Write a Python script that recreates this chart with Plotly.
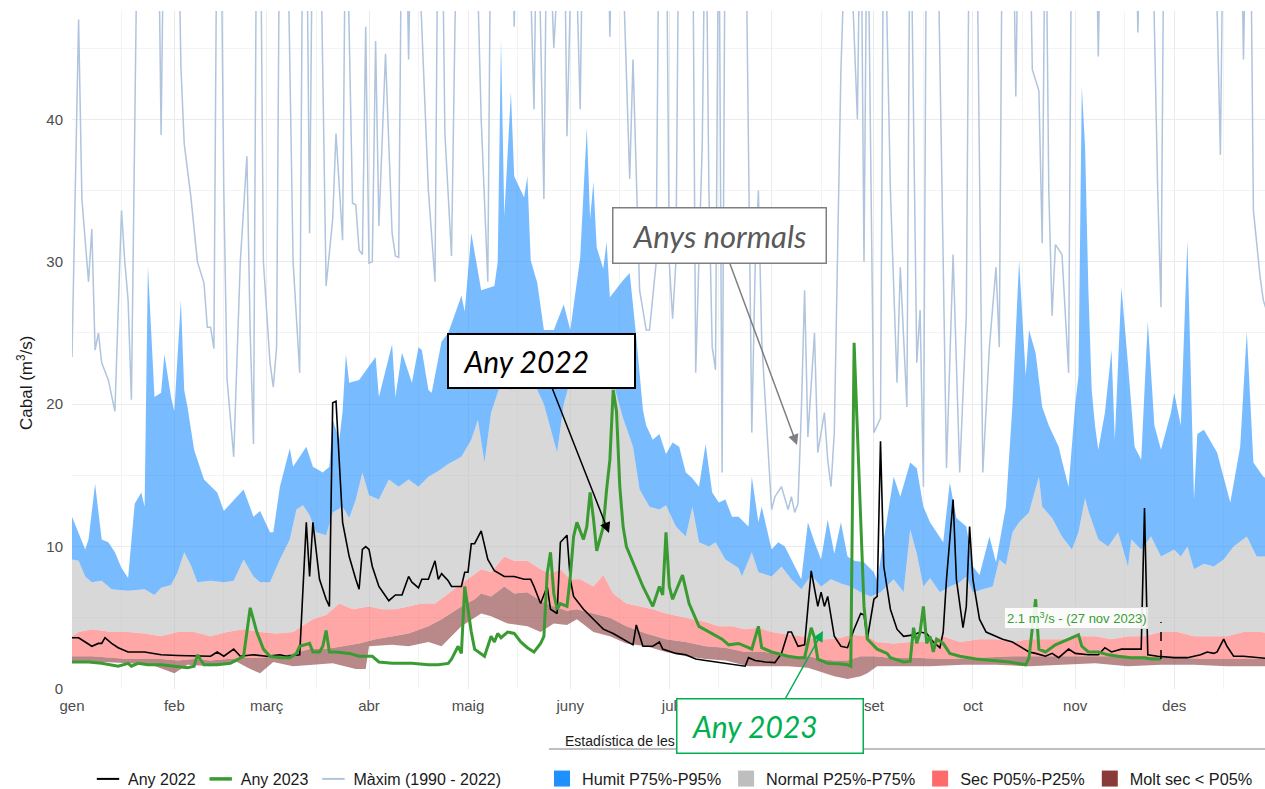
import pandas as pd
import plotly.graph_objects as go

BASE = pd.Timestamp("2022-01-01")

# ---------------- data (day of year, 0 = 1 Jan; flow in m3/s) ----------------
max_day = [0, 2, 3, 5, 6, 7, 8, 9, 11, 13, 15, 16, 17, 18, 20, 26, 27, 28, 32, 33, 34, 36, 38, 40, 41, 42, 43, 44, 45, 46,
           47, 49, 51, 53, 54, 55, 56, 57, 58, 60, 61, 62, 63, 65, 67, 69, 70, 71, 72, 73, 75, 77, 79, 80, 82, 83, 85, 86, 87, 88,
           89, 90, 91, 92, 93, 95, 97, 98, 99, 100, 101, 102, 103, 104, 108, 110, 111, 112, 113, 115, 116, 117, 122, 124, 126, 127, 133, 134, 135, 138,
           140, 141, 143, 144, 146, 149, 150, 152, 154, 155, 162, 163, 164, 166, 169, 170, 172, 174, 175, 177, 178, 180, 181, 182, 183, 184, 188, 189, 191, 192,
           193, 194, 195, 196, 197, 198, 204, 205, 206, 207, 208, 209, 211, 212, 213, 215, 217, 218, 219, 220, 221, 222, 223, 225, 226, 228, 229, 230, 231, 233,
           235, 238, 239, 240, 241, 243, 245, 246, 248, 250, 251, 253, 254, 256, 257, 258, 259, 262, 264, 265, 267, 269, 271, 272, 274, 276, 278, 280, 281, 282,
           285, 286, 287, 290, 291, 293, 294, 295, 296, 297, 298, 300, 302, 303, 310, 311, 312, 322, 323, 324, 327, 329, 330, 331, 346, 348, 349, 354, 355, 356,
           357, 358, 360, 361, 364]
max_val = [23.3, 47.0, 34.4, 28.6, 32.3, 23.8, 25.0, 22.9, 21.7, 19.5, 33.6, 30.0, 27.3, 20.3, 58, 58, 38.9, 58, 58, 43.7, 38.3, 34.6, 30.0, 28.5, 25.4, 25.4, 23.9, 58, 58, 35.0,
           21.7, 16.3, 30.0, 37.4, 25.0, 17.2, 58, 58, 30.0, 22.9, 21.2, 24.0, 58, 58, 30.0, 22.2, 58, 58, 32.0, 58, 58, 28.3, 33.0, 39.0, 31.5, 58, 34.1, 34.0, 30.8, 30.5,
           46.5, 29.9, 30.0, 45.5, 32.5, 44.6, 32.0, 30.4, 30.3, 58, 58, 44.2, 58, 58, 35.0, 28.6, 58, 58, 39.0, 30.4, 45.8, 58, 58, 40.0, 28.6, 58, 58, 46.5, 58, 58,
           40.7, 58, 34.4, 58, 45.0, 58, 38.8, 58, 40.7, 58, 58, 45.8, 58, 58, 35.8, 44.2, 28.0, 25.2, 25.2, 29.9, 58, 58, 29.9, 26.0, 30.0, 58, 58, 22.2, 38.4, 58,
           35.0, 24.0, 22.4, 58, 15.2, 58, 58, 40.0, 18.0, 29.4, 35.0, 24.5, 17.0, 12.6, 13.5, 14.2, 12.6, 13.5, 12.4, 13.0, 19.4, 28.0, 17.7, 25.0, 16.6, 19.4, 16.1, 14.2, 18.0, 43.4,
           58, 40.0, 58, 30.0, 58, 18.0, 19.0, 58, 35.0, 21.5, 29.6, 19.8, 58, 22.9, 26.6, 14.2, 58, 58, 30.0, 15.5, 30.5, 15.2, 26.2, 58, 58, 15.2, 24.0, 29.6, 24.0, 58,
           58, 41.6, 58, 58, 43.5, 42.0, 31.3, 58, 35.0, 26.2, 31.2, 30.5, 22.2, 58, 58, 44.4, 58, 58, 46.1, 58, 58, 35.0, 26.8, 58, 58, 37.5, 58, 58, 44.2, 58,
           58, 33.6, 29.0, 27.3, 25.0]

p95_day = [0, 2, 4, 5, 7, 9, 11, 13, 15, 17, 19, 21, 22, 23, 25, 27, 28, 30, 31, 33, 34, 35, 37, 40, 44, 46, 48, 52, 55, 57,
           60, 61, 63, 66, 67, 71, 73, 76, 78, 79, 81, 82, 83, 84, 87, 92, 93, 97, 98, 100, 102, 103, 105, 106, 108, 109, 112, 114, 118, 119,
           121, 124, 128, 129, 130, 131, 133, 134, 136, 137, 138, 139, 141, 143, 146, 149, 151, 154, 156, 157, 158, 159, 161, 162, 163, 167, 169, 171, 173, 174,
           176, 178, 180, 182, 184, 186, 188, 190, 192, 194, 196, 198, 200, 202, 205, 206, 208, 209, 212, 214, 216, 219, 221, 223, 225, 227, 229, 231, 233, 235,
           237, 240, 243, 244, 249, 251, 254, 256, 258, 260, 262, 264, 266, 268, 271, 273, 275, 278, 280, 283, 285, 287, 289, 290, 292, 294, 296, 299, 300, 302,
           304, 305, 306, 307, 308, 309, 310, 311, 313, 315, 316, 318, 320, 322, 324, 326, 328, 330, 333, 334, 336, 338, 340, 341, 343, 347, 351, 354, 356, 358,
           361, 364]
p95_val = [12.1, 11.0, 9.8, 10.5, 14.4, 10.5, 10.3, 9.6, 8.5, 7.8, 13.0, 13.8, 12.8, 29.7, 20.5, 20.8, 23.5, 20.5, 19.5, 27.3, 21.0, 19.8, 16.8, 14.7, 13.8, 12.5, 13.0, 14.0, 12.1, 12.5,
           11.0, 11.0, 14.2, 16.9, 15.6, 17.0, 15.6, 15.2, 15.6, 18.9, 17.5, 19.5, 23.5, 21.5, 21.7, 23.3, 20.5, 24.2, 20.5, 23.6, 22.2, 21.5, 24.0, 23.8, 21.0, 20.8, 24.4, 25.0, 27.6, 26.5,
           32.0, 28.0, 28.3, 30.0, 45.6, 33.2, 41.9, 36.0, 35.0, 34.5, 36.0, 30.1, 28.5, 25.2, 25.2, 27.0, 25.2, 30.3, 39.4, 33.0, 35.6, 31.0, 29.5, 31.4, 27.5, 28.7, 29.2, 24.7, 19.6, 18.5,
           17.5, 17.9, 16.5, 17.3, 17.0, 15.2, 14.8, 14.2, 17.2, 13.8, 13.1, 13.3, 12.1, 12.1, 11.4, 14.9, 11.7, 12.8, 9.8, 10.3, 10.0, 8.6, 7.7, 11.7, 10.3, 9.1, 11.9, 9.5, 11.7, 9.3,
           9.0, 8.9, 8.2, 7.6, 14.9, 13.5, 15.9, 15.5, 12.8, 11.7, 11.0, 10.3, 14.5, 12.0, 11.4, 8.6, 8.0, 10.7, 8.9, 12.8, 20.0, 30.1, 22.0, 25.2, 23.6, 19.8, 18.5, 17.0, 16.0, 14.2,
           20.0, 22.0, 42.3, 38.0, 28.0, 21.0, 18.5, 16.8, 19.4, 23.8, 17.5, 28.2, 22.8, 17.0, 16.1, 25.8, 18.5, 16.8, 19.4, 20.8, 18.5, 31.5, 13.3, 17.9, 18.2, 16.6, 13.1, 17.0, 25.1, 15.9,
           14.9, 14.5]

p75_day = [0, 2, 4, 6, 9, 12, 17, 22, 25, 27, 30, 32, 34, 36, 38, 42, 46, 49, 52, 55, 57, 60, 63, 66, 68, 70, 72, 74, 77, 79,
           82, 84, 86, 88, 90, 93, 96, 99, 102, 105, 108, 111, 114, 118, 121, 123, 125, 127, 130, 133, 136, 140, 143, 146, 147, 149, 152, 155, 158, 161,
           164, 167, 170, 172, 175, 178, 180, 183, 186, 188, 190, 193, 195, 198, 202, 203, 206, 208, 212, 215, 218, 221, 224, 227, 230, 233, 236, 239, 242, 245,
           249, 252, 254, 256, 258, 260, 263, 266, 269, 271, 273, 276, 279, 281, 283, 285, 287, 290, 293, 294, 297, 300, 303, 305, 307, 308, 311, 314, 317, 320,
           321, 324, 327, 330, 334, 336, 338, 340, 343, 346, 349, 352, 356, 359, 362, 364]
p75_val = [9.1, 9.0, 7.9, 7.5, 7.6, 7.0, 6.9, 7.0, 6.6, 7.1, 7.3, 8.2, 9.6, 8.7, 7.5, 7.6, 7.5, 7.6, 9.1, 7.9, 7.5, 7.5, 9.1, 10.5, 12.6, 12.9, 12.2, 11.0, 10.8, 12.4,
           12.8, 12.0, 13.3, 15.2, 13.6, 13.3, 14.7, 14.2, 14.7, 14.2, 14.9, 15.3, 15.8, 16.3, 17.5, 18.9, 15.9, 19.4, 21.5, 21.0, 22.0, 21.5, 20.0, 17.5, 16.6, 20.0, 22.5, 22.0, 23.0, 22.0,
           21.5, 19.0, 17.0, 14.0, 12.8, 12.6, 12.9, 11.4, 10.7, 12.8, 10.3, 10.0, 10.3, 9.1, 8.5, 7.9, 9.6, 8.2, 7.9, 8.6, 7.7, 7.0, 8.0, 7.2, 7.7, 7.4, 7.2, 6.8, 6.5, 6.8,
           7.7, 6.8, 11.2, 9.5, 7.2, 7.8, 6.8, 7.2, 7.5, 7.9, 6.8, 7.0, 7.2, 9.1, 8.7, 11.0, 11.7, 12.4, 14.9, 12.8, 12.0, 10.7, 9.8, 11.0, 13.4, 12.5, 10.5, 10.0, 11.0, 8.6,
           10.5, 9.8, 10.7, 9.3, 9.8, 9.3, 10.0, 8.4, 8.8, 8.6, 9.1, 10.0, 10.7, 9.3, 9.3, 9.5]

p25_day = [0, 2, 6, 12, 17, 22, 27, 32, 37, 42, 47, 52, 57, 62, 67, 73, 77, 81, 85, 90, 94, 98, 102, 106, 110, 114, 118, 122, 124, 127,
           131, 134, 138, 142, 145, 148, 151, 154, 158, 161, 164, 168, 172, 176, 180, 184, 188, 192, 196, 200, 204, 208, 212, 217, 221, 225, 229, 233, 236, 241,
           244, 249, 254, 259, 264, 269, 275, 280, 285, 290, 295, 300, 305, 310, 315, 320, 325, 330, 335, 340, 345, 350, 355, 360, 364]
p25_val = [3.7, 4.0, 4.2, 4.0, 4.0, 3.9, 3.7, 4.0, 4.0, 3.7, 4.0, 4.2, 4.0, 3.9, 4.0, 4.9, 5.2, 6.0, 5.6, 5.8, 5.6, 5.6, 5.8, 6.0, 6.0, 6.7, 7.4, 8.1, 8.4, 8.2,
           9.3, 9.0, 9.0, 8.4, 8.1, 8.4, 7.7, 7.7, 7.2, 8.0, 6.7, 6.0, 5.8, 5.6, 5.3, 5.1, 4.9, 4.7, 4.4, 4.4, 4.2, 4.3, 4.0, 3.8, 3.7, 3.5, 3.5, 3.6, 3.8, 3.7,
           3.3, 3.2, 3.3, 3.3, 3.7, 3.3, 3.5, 3.5, 3.3, 3.5, 3.5, 3.5, 3.7, 3.7, 3.5, 3.7, 3.7, 4.0, 4.0, 3.7, 3.7, 3.7, 4.0, 4.0, 3.9]

p05_day = [0, 6, 12, 17, 27, 32, 37, 42, 47, 52, 57, 62, 67, 72, 77, 82, 87, 92, 97, 102, 108, 112, 118, 122, 124, 127, 131, 134, 138, 142,
           146, 150, 153, 158, 163, 168, 174, 180, 186, 192, 198, 204, 210, 217, 223, 227, 231, 235, 239, 243, 248, 255, 265, 275, 285, 295, 305, 315, 325, 335,
           345, 355, 364]
p05_val = [2.3, 2.3, 2.2, 2.1, 2.1, 2.0, 2.1, 2.0, 2.1, 2.2, 2.2, 2.3, 2.5, 2.8, 2.8, 3.0, 3.2, 3.5, 3.7, 3.9, 4.4, 4.9, 5.8, 6.3, 6.7, 6.5, 7.2, 6.7, 6.8, 6.2,
           5.8, 5.5, 5.6, 5.3, 5.0, 4.4, 3.9, 3.5, 3.3, 3.0, 2.9, 2.6, 2.6, 2.3, 2.3, 2.1, 2.0, 2.0, 2.3, 2.3, 2.2, 2.2, 2.1, 2.2, 2.3, 2.3, 2.3, 2.3, 2.3, 2.2,
           2.1, 2.1, 2.1]

min_day = [0, 10, 17, 24, 31, 35, 42, 50, 54, 57, 61, 67, 73, 79, 86, 89, 90, 97, 102, 108, 112, 118, 122, 124, 127, 129, 132, 138, 142, 146,
           150, 153, 158, 163, 168, 174, 180, 186, 192, 198, 205, 210, 217, 223, 227, 231, 235, 239, 241, 244, 250, 260, 270, 280, 290, 300, 310, 320, 330, 340,
           350, 364]
min_val = [1.9, 1.9, 1.8, 1.7, 1.1, 1.7, 1.6, 1.9, 1.4, 1.1, 1.9, 1.6, 1.7, 1.8, 1.4, 1.4, 3.0, 3.1, 3.0, 3.3, 3.0, 4.4, 5.0, 5.3, 5.1, 4.9, 4.6, 4.4, 4.0, 4.6,
           4.5, 4.9, 4.0, 3.7, 3.2, 3.0, 2.6, 2.3, 2.1, 2.0, 1.6, 1.6, 1.6, 1.5, 1.2, 0.9, 0.7, 0.9, 1.1, 1.6, 1.6, 1.6, 1.7, 1.7, 1.6, 1.7, 1.8, 1.6, 1.7, 1.7,
           1.6, 1.6]

y2022_day = [0, 2, 4, 6, 8, 9, 10, 12, 14, 17, 22, 27, 32, 37, 42, 44, 46, 49, 51, 55, 59, 63, 65, 67, 69, 71, 72, 73, 75, 77,
             78, 79, 80, 82, 84, 86, 87, 88, 89, 90, 91, 93, 96, 98, 100, 102, 103, 105, 106, 108, 110, 111, 112, 114, 115, 118, 119, 120, 121, 122,
             124, 126, 128, 131, 134, 137, 139, 140, 142, 144, 145, 147, 148, 150, 151, 152, 155, 158, 161, 164, 167, 170, 171, 173, 176, 178, 179, 183, 186, 189,
             192, 195, 198, 201, 204, 205, 207, 210, 213, 215, 217, 218, 220, 222, 224, 226, 227, 228, 229, 231, 233, 235, 237, 239, 240, 241, 243, 244, 245, 246,
             248, 250, 252, 255, 257, 259, 261, 263, 264, 265, 267, 268, 270, 271, 272, 273, 275, 277, 279, 282, 285, 288, 290, 292, 295, 297, 299, 302, 304, 308,
             311, 313, 315, 318, 324, 325, 326, 329, 334, 338, 342, 344, 346, 347, 349, 350, 352, 355, 360, 364]
y2022_val = [3.6, 3.6, 3.3, 3.0, 3.2, 3.2, 3.6, 3.2, 2.9, 2.6, 2.6, 2.4, 2.35, 2.3, 2.3, 2.6, 2.3, 2.8, 2.3, 2.4, 2.3, 2.4, 2.3, 2.35, 2.4, 11.7, 7.9, 11.7, 7.7, 6.3,
             5.8, 20.1, 20.2, 11.7, 9.3, 7.7, 7.0, 9.8, 10.0, 9.8, 8.6, 7.2, 6.2, 6.6, 6.6, 7.9, 7.5, 7.1, 7.7, 7.7, 9.0, 7.7, 8.1, 7.6, 7.2, 7.2, 8.2, 8.2, 10.2, 10.2,
             11.1, 9.1, 8.3, 7.9, 7.9, 7.7, 7.7, 7.2, 6.0, 7.2, 5.6, 5.3, 10.3, 10.8, 7.7, 6.5, 5.6, 4.9, 4.2, 3.9, 3.5, 3.1, 4.5, 3.0, 3.0, 3.3, 2.8, 2.5, 2.4, 2.1,
             2.0, 1.9, 1.75, 1.7, 1.6, 2.2, 2.0, 1.9, 1.85, 2.5, 4.0, 4.0, 3.0, 3.1, 8.3, 5.8, 6.8, 5.8, 6.5, 3.7, 3.0, 2.9, 4.2, 5.3, 5.2, 3.5, 6.3, 6.5, 17.4, 8.6,
             5.6, 4.2, 3.7, 3.8, 4.0, 3.9, 3.3, 2.9, 4.0, 7.7, 13.3, 7.7, 4.3, 5.8, 11.4, 7.7, 4.9, 4.0, 3.8, 3.5, 3.3, 2.9, 2.6, 2.5, 2.3, 2.5, 2.2, 2.8, 2.5, 2.4,
             2.4, 2.9, 2.6, 2.8, 2.8, 12.7, 2.4, 2.3, 2.2, 2.2, 2.4, 2.6, 2.5, 2.6, 3.5, 3.0, 2.3, 2.3, 2.2, 2.1]

y2023_day = [0, 5, 9, 14, 17, 18, 20, 23, 27, 32, 35, 37, 38, 40, 44, 48, 52, 53, 54, 56, 58, 60, 63, 66, 68, 69, 71, 72, 73, 75,
             76, 77, 78, 80, 84, 87, 91, 93, 97, 103, 108, 111, 114, 115, 117, 118, 119, 121, 122, 125, 127, 128, 129, 130, 132, 134, 136, 138, 140, 142,
             143, 144, 145, 146, 147, 148, 150, 151, 152, 153, 155, 156, 157, 158, 159, 160, 161, 162, 163, 164, 165, 166, 167, 168, 170, 173, 176, 178, 179, 180,
             181, 182, 185, 187, 190, 193, 197, 199, 202, 205, 206, 208, 209, 212, 217, 220, 222, 224, 225, 226, 229, 233, 235, 236, 237, 239, 240, 241, 244, 247,
             248, 252, 254, 255, 256, 257, 258, 259, 260, 261, 262, 264, 266, 269, 274, 279, 284, 289, 290, 292, 293, 295, 298, 301, 305, 306, 308, 311, 314, 317,
             321, 325, 327, 330]
y2023_val = [1.9, 1.9, 1.8, 1.6, 1.8, 1.6, 1.8, 1.7, 1.7, 1.6, 1.5, 1.6, 2.4, 1.7, 1.7, 1.8, 2.3, 4.0, 5.7, 4.0, 2.8, 2.3, 2.2, 2.2, 2.5, 3.0, 3.1, 3.2, 2.6, 2.6,
             3.0, 4.1, 2.6, 2.6, 2.5, 2.3, 2.3, 1.9, 1.8, 1.8, 1.7, 1.7, 1.8, 2.1, 3.0, 2.5, 7.2, 4.0, 2.8, 2.3, 3.7, 3.3, 3.9, 3.6, 4.0, 3.9, 3.3, 2.9, 2.6, 3.2,
             3.7, 8.1, 9.6, 6.7, 5.6, 6.0, 5.8, 7.9, 10.7, 11.7, 10.5, 11.4, 13.8, 12.0, 9.7, 10.6, 11.4, 14.0, 16.1, 21.0, 19.5, 14.2, 11.4, 10.0, 8.9, 7.2, 5.8, 7.2, 6.6, 11.0,
             7.2, 6.3, 8.0, 6.0, 4.4, 4.0, 3.5, 3.1, 3.2, 2.9, 2.8, 4.4, 2.9, 2.6, 2.3, 2.2, 2.2, 4.3, 3.6, 2.1, 1.8, 1.75, 1.7, 1.6, 24.3, 11.9, 5.8, 3.5, 2.8, 2.5,
             2.2, 1.9, 1.95, 4.3, 3.2, 4.0, 5.8, 3.2, 3.7, 2.6, 3.5, 3.2, 2.5, 2.3, 2.1, 2.0, 1.9, 1.7, 2.2, 6.3, 2.8, 2.6, 3.1, 3.4, 3.8, 3.0, 2.6, 2.6, 2.4, 2.3,
             2.2, 2.2, 2.1, 2.1]

month_start_day = [0, 31, 59, 90, 120, 151, 181, 212, 243, 273, 304, 334]
month_label = ["gen", "feb", "març", "abr", "maig", "juny", "jul", "ago", "set", "oct", "nov", "des"]
y_ticks = [0, 10, 20, 30, 40]
last_label_date = "27 nov 2023"

series = {"max": (max_day, max_val), "p95": (p95_day, p95_val), "p75": (p75_day, p75_val),
          "p25": (p25_day, p25_val), "p05": (p05_day, p05_val), "min": (min_day, min_val),
          "2022": (y2022_day, y2022_val), "2023": (y2023_day, y2023_val)}
for k, (d, v) in series.items():
    assert len(d) == len(v), (k, len(d), len(v))
    assert all(d[i] < d[i + 1] for i in range(len(d) - 1)), k


def to_dates(days):
    return [BASE + pd.Timedelta(days=float(d)) for d in days]


# ---------------- styling ----------------
FONT = "Liberation Sans, Arial, sans-serif"
C_MAX = "#B0C4DE"
C_2022 = "#000000"
C_2023 = "#3A9B32"
C_HUMIT, F_HUMIT = "#1E90FF", "rgba(30,144,255,0.6)"
C_NORMAL, F_NORMAL = "#BEBEBE", "rgba(190,190,190,0.6)"
C_SEC, F_SEC = "#FF6A6A", "rgba(255,106,106,0.6)"
C_MOLT, F_MOLT = "#8B3A3A", "rgba(139,58,58,0.6)"
GRID = "#EBEBEB"
GRID_MINOR = "#F3F3F3"

W, H = 1265, 789
ML, MR, MT, MB = 72, 0, 11, 100
PW, PH = W - ML - MR, H - MT - MB


def px(xp):
    return (xp - ML) / PW


def py(yp):
    return (MT + PH - yp) / PH


fig = go.Figure()

# maximum line (behind the bands)
fig.add_trace(go.Scatter(x=to_dates(max_day), y=max_val, mode="lines",
                         line=dict(color=C_MAX, width=1.5), showlegend=False, hoverinfo="skip"))

# percentile bands
band_order = [("min", None), ("p05", F_MOLT), ("p25", F_SEC), ("p75", F_NORMAL), ("p95", F_HUMIT)]
for name, fillc in band_order:
    d, v = series[name]
    fig.add_trace(go.Scatter(x=to_dates(d), y=v, mode="lines", line=dict(width=0, color="rgba(0,0,0,0)"),
                             fill=None if fillc is None else "tonexty", fillcolor=fillc,
                             showlegend=False, hoverinfo="skip"))

# yearly lines
fig.add_trace(go.Scatter(x=to_dates(y2022_day), y=y2022_val, mode="lines",
                         line=dict(color=C_2022, width=1.6), showlegend=False, hoverinfo="skip"))
fig.add_trace(go.Scatter(x=to_dates(y2023_day), y=y2023_val, mode="lines",
                         line=dict(color=C_2023, width=3), showlegend=False, hoverinfo="skip"))

# legend entries (lines)
for nm, col, wd in [("Any 2022", C_2022, 2), ("Any 2023", C_2023, 3.5), ("Màxim (1990 - 2022)", C_MAX, 2)]:
    fig.add_trace(go.Scatter(x=[None], y=[None], mode="markers", name=nm, legend="legend",
                             marker=dict(symbol="line-ew-open", size=16, color=col, line=dict(color=col, width=wd))))
# legend entries (bands)
for nm, col in [("Humit P75%-P95%", C_HUMIT), ("Normal P25%-P75%", C_NORMAL),
                ("Sec P05%-P25%", C_SEC), ("Molt sec < P05%", C_MOLT)]:
    fig.add_trace(go.Scatter(x=[None], y=[None], mode="markers", name=nm, legend="legend2",
                             marker=dict(symbol="square", size=16, color=col, line=dict(width=0))))

x_end = BASE + pd.Timedelta(days=PW / 3.3)

fig.update_layout(
    width=W, height=H,
    margin=dict(l=ML, r=MR, t=MT, b=MB, autoexpand=False),
    paper_bgcolor="white", plot_bgcolor="white",
    font=dict(family=FONT, size=15, color="#1a1a1a"),
    xaxis=dict(range=[BASE, x_end], tickmode="array", tickvals=to_dates(month_start_day), ticktext=month_label,
               showgrid=True, gridcolor=GRID, gridwidth=1.2, zeroline=False, showline=False, ticks="",
               tickfont=dict(size=15, color="#4D4D4D"), ticklabelstandoff=6, automargin=False,
               minor=dict(tickmode="linear", tick0="2022-01-16", dtick="M1", showgrid=True,
                          gridcolor=GRID_MINOR, gridwidth=0.8)),
    yaxis=dict(range=[0, 47.6], tickmode="array", tickvals=y_ticks, ticktext=[str(t) for t in y_ticks],
               showgrid=True, gridcolor=GRID, gridwidth=1.2, zeroline=False, showline=False, ticks="",
               tickfont=dict(size=15, color="#4D4D4D"), ticklabelstandoff=8, automargin=False,
               minor=dict(tickmode="linear", tick0=0, dtick=5, showgrid=True, gridcolor=GRID_MINOR, gridwidth=0.8)),
    legend=dict(orientation="h", x=px(88), xanchor="left", y=py(779), yanchor="middle", traceorder="normal",
                font=dict(size=16, color="#1a1a1a", family=FONT), bgcolor="rgba(0,0,0,0)",
                itemwidth=30, itemclick=False, itemdoubleclick=False),
    legend2=dict(orientation="h", x=px(542), xanchor="left", y=py(779), yanchor="middle", traceorder="normal",
                 font=dict(size=16.25, color="#1a1a1a", family=FONT), bgcolor="rgba(0,0,0,0)",
                 itemwidth=30, itemclick=False, itemdoubleclick=False),
)

last_day, last_val = y2023_day[-1], y2023_val[-1]
label_y = 4.95
shapes = [
    dict(type="line", xref="paper", yref="paper", x0=px(549), x1=1.0, y0=py(749), y1=py(749),
         line=dict(color="#7F7F7F", width=1)),
    dict(type="line", xref="x", yref="y", x0=to_dates([last_day])[0], x1=to_dates([last_day])[0],
         y0=last_val, y1=label_y - 0.25, line=dict(color="black", width=1.5, dash="dash")),
]
fig.update_layout(shapes=shapes)

annotations = [
    dict(text="Cabal (m<sup>3</sup>/s)", xref="paper", yref="paper", x=px(25), y=py(383), textangle=-90,
         xanchor="center", yanchor="middle", showarrow=False, font=dict(size=17, color="#1a1a1a")),
    dict(text="Estadística de les sèries (1990 - 2022)", xref="paper", yref="paper", x=px(563), y=py(741),
         xanchor="left", yanchor="middle", showarrow=False, font=dict(size=14, color="#1a1a1a")),
    dict(text=f"{last_val:.1f} m<sup>3</sup>/s - ({last_label_date})", xref="x", yref="y",
         x=BASE + pd.Timedelta(days=304.5), y=label_y, showarrow=False,
         font=dict(size=13, color=C_2023), bgcolor="rgba(255,255,255,0.9)", bordercolor="#D9D9D9",
         borderwidth=1, borderpad=2),
    dict(text="<i>Anys normals</i>", xref="paper", yref="paper", x=px(797), y=py(445),
         ax=719.5 - 797, ay=235.5 - 445, showarrow=True, arrowhead=2, arrowsize=1.4, arrowwidth=1.5,
         arrowcolor="#7F7F7F", font=dict(family="Lato, Open Sans, sans-serif", size=31, color="#595959"),
         bgcolor="white", bordercolor="#7F7F7F", borderwidth=1.5, borderpad=0, width=212, height=54,
         align="center", valign="middle"),
    dict(text="&nbsp;&nbsp;<i>Any 2022</i>", xref="paper", yref="paper", x=px(609), y=py(533),
         ax=541.5 - 609, ay=361 - 533, showarrow=True, arrowhead=2, arrowsize=1.4, arrowwidth=1.5,
         arrowcolor="black", font=dict(family="Lato, Open Sans, sans-serif", size=30, color="black"),
         bgcolor="white", bordercolor="black", borderwidth=2, borderpad=0, width=185, height=52,
         align="left", valign="middle"),
    dict(text="&nbsp;&nbsp;<i>Any 2023</i>", xref="paper", yref="paper", x=px(823), y=py(631),
         ax=770 - 823, ay=726 - 631, showarrow=True, arrowhead=2, arrowsize=1.4, arrowwidth=1.5,
         arrowcolor="#00B050", font=dict(family="Lato, Open Sans, sans-serif", size=30, color="#00B050"),
         bgcolor="white", bordercolor="#00B050", borderwidth=1.5, borderpad=0, width=185, height=53,
         align="left", valign="middle"),
]
fig.update_layout(annotations=annotations)

fig.write_html("out.html", config={"displayModeBar": False},
               post_script="document.body.style.margin='0px';document.body.style.padding='0px';")
